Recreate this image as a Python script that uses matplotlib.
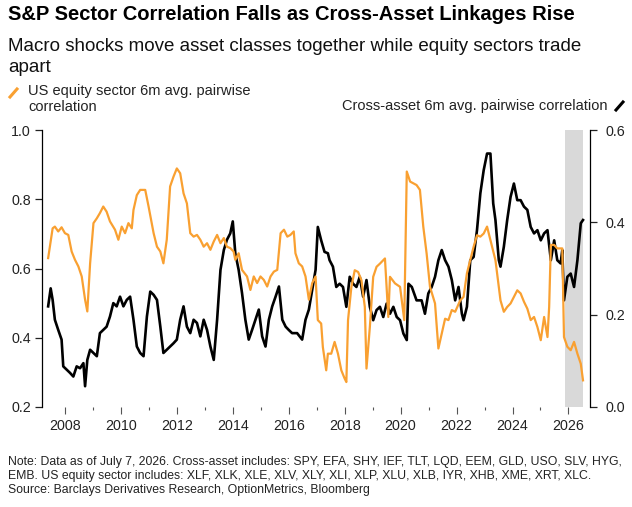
import matplotlib

matplotlib.use("Agg")
import matplotlib.pyplot as plt
from matplotlib.lines import Line2D
from matplotlib.ticker import MultipleLocator

plt.rcParams["font.family"] = ["Liberation Sans", "DejaVu Sans"]

# US equity sector 6m avg. pairwise correlation (left axis)
eq_years = [
    2007.40, 2007.46, 2007.56, 2007.64, 2007.76, 2007.88, 2008.00, 2008.12, 2008.24, 2008.36,
    2008.48, 2008.60, 2008.72, 2008.80, 2008.90, 2009.02, 2009.14, 2009.25, 2009.37, 2009.49,
    2009.61, 2009.79, 2009.91, 2010.03, 2010.15, 2010.27, 2010.39, 2010.45, 2010.57, 2010.69,
    2010.87, 2010.99, 2011.17, 2011.29, 2011.41, 2011.52, 2011.64, 2011.76, 2011.88, 2012.00,
    2012.12, 2012.24, 2012.36, 2012.48, 2012.60, 2012.72, 2012.84, 2012.96, 2013.08, 2013.20,
    2013.32, 2013.44, 2013.56, 2013.68, 2013.79, 2013.91, 2014.03, 2014.09, 2014.21, 2014.33,
    2014.51, 2014.63, 2014.75, 2014.87, 2014.99, 2015.11, 2015.23, 2015.35, 2015.47, 2015.59,
    2015.71, 2015.83, 2015.95, 2016.06, 2016.18, 2016.24, 2016.36, 2016.48, 2016.60, 2016.72,
    2016.84, 2016.96, 2017.04, 2017.16, 2017.22, 2017.34, 2017.40, 2017.52, 2017.64, 2017.76,
    2017.88, 2018.00, 2018.06, 2018.12, 2018.24, 2018.36, 2018.48, 2018.60, 2018.72, 2018.78,
    2018.90, 2019.02, 2019.14, 2019.26, 2019.44, 2019.56, 2019.62, 2019.80, 2019.98, 2020.13,
    2020.22, 2020.34, 2020.57, 2020.69, 2020.81, 2020.93, 2021.05, 2021.23, 2021.35, 2021.47,
    2021.59, 2021.71, 2021.83, 2021.95, 2022.13, 2022.25, 2022.37, 2022.49, 2022.61, 2022.73,
    2022.85, 2022.97, 2023.09, 2023.21, 2023.39, 2023.57, 2023.69, 2023.81, 2023.93, 2024.05,
    2024.17, 2024.29, 2024.41, 2024.53, 2024.65, 2024.77, 2024.89, 2025.01, 2025.13, 2025.25,
    2025.31, 2025.37, 2025.49, 2025.60, 2025.78, 2025.84, 2025.96, 2026.08, 2026.20, 2026.32,
    2026.44, 2026.52,
]
eq_corr = [
    0.630, 0.663, 0.716, 0.721, 0.707, 0.719, 0.702, 0.697, 0.649, 0.625,
    0.606, 0.577, 0.510, 0.476, 0.615, 0.731, 0.745, 0.760, 0.779, 0.764,
    0.736, 0.712, 0.683, 0.721, 0.702, 0.731, 0.716, 0.769, 0.812, 0.827,
    0.827, 0.779, 0.702, 0.663, 0.649, 0.615, 0.683, 0.837, 0.865, 0.889,
    0.875, 0.817, 0.788, 0.702, 0.692, 0.697, 0.683, 0.663, 0.673, 0.654,
    0.678, 0.697, 0.673, 0.688, 0.663, 0.659, 0.649, 0.625, 0.644, 0.596,
    0.577, 0.538, 0.577, 0.558, 0.577, 0.567, 0.548, 0.577, 0.591, 0.596,
    0.702, 0.712, 0.692, 0.697, 0.707, 0.644, 0.615, 0.606, 0.577, 0.510,
    0.558, 0.577, 0.451, 0.441, 0.373, 0.306, 0.354, 0.354, 0.388, 0.354,
    0.306, 0.282, 0.272, 0.451, 0.547, 0.595, 0.590, 0.566, 0.489, 0.311,
    0.431, 0.576, 0.605, 0.614, 0.629, 0.460, 0.576, 0.557, 0.547, 0.451,
    0.880, 0.851, 0.841, 0.827, 0.721, 0.643, 0.547, 0.499, 0.369, 0.412,
    0.455, 0.451, 0.480, 0.475, 0.508, 0.518, 0.586, 0.624, 0.663, 0.696,
    0.692, 0.701, 0.721, 0.682, 0.624, 0.508, 0.475, 0.489, 0.499, 0.518,
    0.537, 0.528, 0.504, 0.484, 0.451, 0.460, 0.431, 0.393, 0.460, 0.402,
    0.489, 0.668, 0.668, 0.658, 0.658, 0.402, 0.374, 0.364, 0.388, 0.354,
    0.325, 0.277,
]

# Cross-asset 6m avg. pairwise correlation (right axis)
xa_years = [
    2007.40, 2007.49, 2007.56, 2007.64, 2007.76, 2007.88, 2007.94, 2008.06, 2008.18, 2008.30,
    2008.42, 2008.54, 2008.66, 2008.72, 2008.80, 2008.90, 2009.02, 2009.14, 2009.25, 2009.37,
    2009.49, 2009.61, 2009.73, 2009.85, 2009.97, 2010.09, 2010.21, 2010.33, 2010.45, 2010.57,
    2010.69, 2010.81, 2010.93, 2011.05, 2011.17, 2011.29, 2011.41, 2011.52, 2011.64, 2011.76,
    2011.88, 2012.00, 2012.12, 2012.24, 2012.36, 2012.48, 2012.60, 2012.72, 2012.84, 2012.96,
    2013.08, 2013.20, 2013.32, 2013.44, 2013.56, 2013.68, 2013.79, 2013.91, 2014.00, 2014.09,
    2014.21, 2014.33, 2014.45, 2014.57, 2014.69, 2014.81, 2014.93, 2015.05, 2015.17, 2015.29,
    2015.41, 2015.53, 2015.65, 2015.77, 2015.89, 2016.00, 2016.12, 2016.30, 2016.48, 2016.60,
    2016.72, 2016.84, 2016.96, 2017.04, 2017.16, 2017.28, 2017.40, 2017.46, 2017.58, 2017.70,
    2017.82, 2017.94, 2018.06, 2018.18, 2018.30, 2018.42, 2018.54, 2018.66, 2018.78, 2018.90,
    2019.02, 2019.14, 2019.26, 2019.38, 2019.50, 2019.62, 2019.74, 2019.86, 2019.98, 2020.10,
    2020.22, 2020.28, 2020.40, 2020.57, 2020.75, 2020.87, 2020.99, 2021.11, 2021.23, 2021.35,
    2021.47, 2021.59, 2021.71, 2021.83, 2021.95, 2022.07, 2022.19, 2022.25, 2022.37, 2022.49,
    2022.61, 2022.73, 2022.85, 2022.97, 2023.09, 2023.21, 2023.31, 2023.39, 2023.51, 2023.57,
    2023.69, 2023.81, 2023.93, 2024.05, 2024.17, 2024.29, 2024.41, 2024.53, 2024.65, 2024.77,
    2024.89, 2025.01, 2025.13, 2025.25, 2025.37, 2025.49, 2025.60, 2025.72, 2025.78, 2025.84,
    2025.96, 2026.08, 2026.20, 2026.32, 2026.44, 2026.52,
]
xa_corr = [
    0.218, 0.257, 0.232, 0.189, 0.167, 0.146, 0.088, 0.081, 0.074, 0.066,
    0.088, 0.084, 0.095, 0.045, 0.102, 0.124, 0.117, 0.110, 0.160, 0.167,
    0.174, 0.196, 0.225, 0.218, 0.239, 0.218, 0.232, 0.239, 0.189, 0.131,
    0.117, 0.110, 0.196, 0.250, 0.243, 0.232, 0.174, 0.117, 0.124, 0.131,
    0.138, 0.146, 0.189, 0.218, 0.174, 0.160, 0.189, 0.182, 0.153, 0.189,
    0.167, 0.131, 0.102, 0.189, 0.297, 0.340, 0.362, 0.376, 0.402, 0.333,
    0.297, 0.247, 0.189, 0.146, 0.167, 0.189, 0.211, 0.153, 0.131, 0.189,
    0.218, 0.239, 0.261, 0.189, 0.174, 0.167, 0.160, 0.160, 0.146, 0.189,
    0.211, 0.254, 0.297, 0.390, 0.361, 0.336, 0.333, 0.318, 0.304, 0.260,
    0.267, 0.260, 0.217, 0.282, 0.267, 0.260, 0.282, 0.239, 0.275, 0.217,
    0.188, 0.210, 0.217, 0.195, 0.224, 0.202, 0.217, 0.195, 0.188, 0.159,
    0.145, 0.267, 0.260, 0.231, 0.231, 0.202, 0.246, 0.260, 0.282, 0.318,
    0.340, 0.318, 0.304, 0.275, 0.231, 0.260, 0.202, 0.188, 0.217, 0.318,
    0.325, 0.383, 0.463, 0.513, 0.549, 0.549, 0.441, 0.405, 0.318, 0.304,
    0.347, 0.405, 0.455, 0.484, 0.448, 0.448, 0.434, 0.427, 0.390, 0.376,
    0.383, 0.361, 0.376, 0.383, 0.318, 0.361, 0.318, 0.311, 0.340, 0.231,
    0.282, 0.289, 0.260, 0.318, 0.398, 0.405,
]

shade_start, shade_end = 2025.88, 2026.53
year_labels = list(range(2008, 2027, 2))

ORANGE = "#f9a031"
BLACK = "#000000"
GREY = "#d9d9d9"

fig = plt.figure(figsize=(6.32, 5.07), dpi=100)
ax = fig.add_axes([42 / 632, 1 - 407 / 507, 548 / 632, 277 / 507])
ax2 = ax.twinx()

# band sits under both lines
ax2.axvspan(shade_start, shade_end, color=GREY, lw=0, zorder=0)
ax2.plot(xa_years, xa_corr, color=BLACK, lw=1.9, zorder=2)
ax.plot(eq_years, eq_corr, color=ORANGE, lw=1.6, zorder=3)
# orange drawn on top of black
ax.set_zorder(ax2.get_zorder() + 1)
ax.patch.set_visible(False)

ax.set_xlim(2007.18, 2026.77)
ax.set_ylim(0.2, 1.0)
ax2.set_ylim(0.0, 0.6)
ax.set_yticks([0.2, 0.4, 0.6, 0.8, 1.0])
ax2.set_yticks([0.0, 0.2, 0.4, 0.6])
ax.set_yticklabels([f"{v:.1f}" for v in [0.2, 0.4, 0.6, 0.8, 1.0]])
ax2.set_yticklabels([f"{v:.1f}" for v in [0.0, 0.2, 0.4, 0.6]])

ax.set_xticks(year_labels)
ax.set_xticklabels([str(y) for y in year_labels])
ax.xaxis.set_minor_locator(MultipleLocator(1))

for a in (ax, ax2):
    for s in ("top", "bottom"):
        a.spines[s].set_visible(False)
ax.spines["right"].set_visible(False)
ax2.spines["left"].set_visible(False)
ax.spines["left"].set_linewidth(0.9)
ax2.spines["right"].set_linewidth(0.9)

ax.tick_params(axis="y", direction="out", length=5, width=0.9, labelsize=10.3, pad=3, colors="#222222")
ax2.tick_params(axis="y", direction="out", length=5, width=0.9, labelsize=10.3, pad=6, colors="#222222")
ax.tick_params(axis="x", which="major", direction="out", length=5, width=0.8, labelsize=10.3, pad=4,
               color="#555555", labelcolor="#222222")
ax.tick_params(axis="x", which="minor", direction="out", length=2.5, width=0.8, color="#555555")

fig.text(8 / 632, 1 - 15 / 507, "S&P Sector Correlation Falls as Cross-Asset Linkages Rise",
         fontsize=14.5, fontweight="bold", va="center", ha="left")
fig.text(8 / 632, 1 - 57 / 507,
         "Macro shocks move asset classes together while equity sectors trade\napart",
         fontsize=13.5, va="center", ha="left", linespacing=1.35, color="#111111")

fig.text(28 / 632, 1 - 99 / 507, "US equity sector 6m avg. pairwise\ncorrelation",
         fontsize=10.5, va="center", ha="left", linespacing=1.1, color="#222222")
fig.text(607 / 632, 1 - 106 / 507, "Cross-asset 6m avg. pairwise correlation",
         fontsize=10.5, va="center", ha="right", color="#222222")
fig.add_artist(Line2D([10 / 632, 17 / 632], [1 - 97 / 507, 1 - 89 / 507], color=ORANGE, lw=2.2,
                      transform=fig.transFigure))
fig.add_artist(Line2D([616 / 632, 623 / 632], [1 - 110 / 507, 1 - 102 / 507], color=BLACK, lw=2.2,
                      transform=fig.transFigure))

note = ("Note: Data as of July 7, 2026. Cross-asset includes: SPY, EFA, SHY, IEF, TLT, LQD, EEM, GLD, USO, SLV, HYG,\n"
        "EMB. US equity sector includes: XLF, XLK, XLE, XLV, XLY, XLI, XLP, XLU, XLB, IYR, XHB, XME, XRT, XLC.\n"
        "Source: Barclays Derivatives Research, OptionMetrics, Bloomberg")
fig.text(8 / 632, 1 - 476 / 507, note, fontsize=8.8, va="center", ha="left", linespacing=1.25,
         color="#222222")

fig.savefig("out.png", dpi=100)
